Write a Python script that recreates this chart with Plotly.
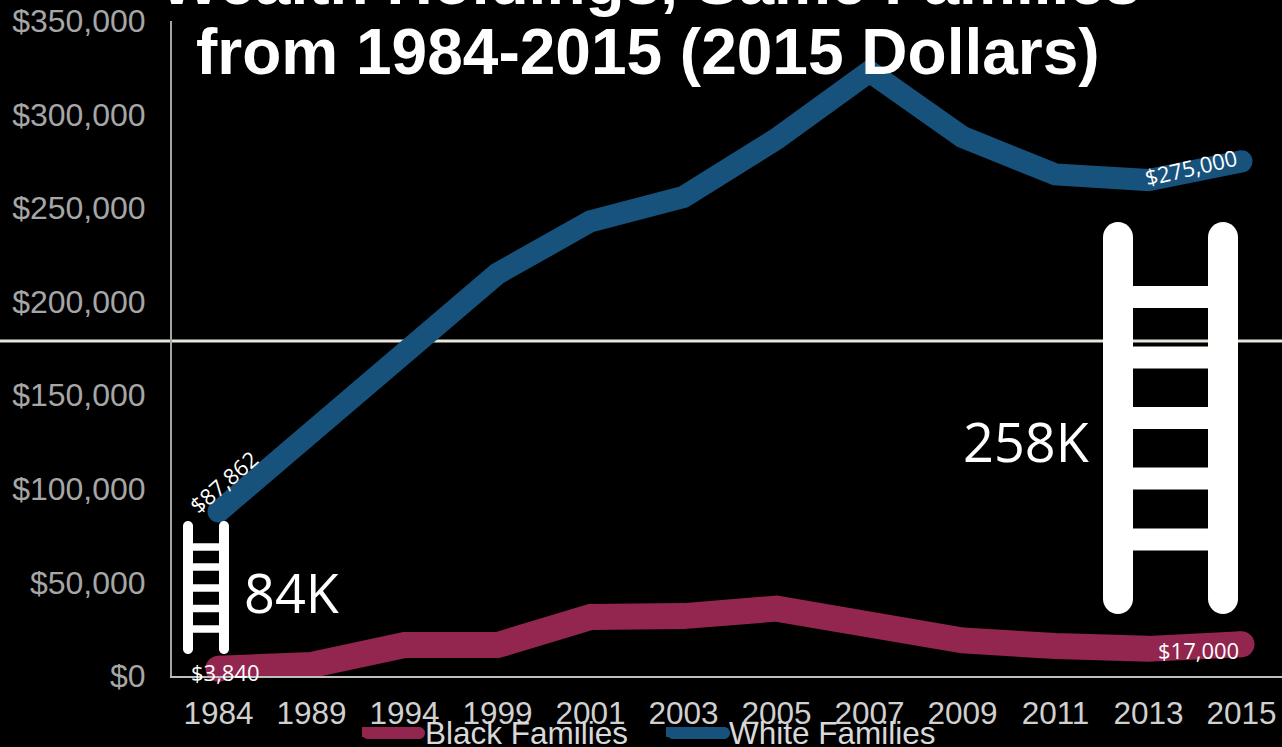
import plotly.graph_objects as go

years = ["1984","1989","1994","1999","2001","2003","2005","2007","2009","2011","2013","2015"]
white_families = [87862,131000,174000,215000,243000,256000,287000,323000,288000,268000,265000,275000]
black_families = [3840,5900,16500,16500,31500,32000,36000,29000,19000,16000,14500,17000]
y_ticks = [0,50000,100000,150000,200000,250000,300000,350000]
y_labels = ["$0","$50,000","$100,000","$150,000","$200,000","$250,000","$300,000","$350,000"]

W, H = 1282, 777   # page runs past the 747px window so the legend can sit on its lower edge
L, R, T, B = 172, 1282, 21, 676
BLUE = "#17527c"
RED = "#92264f"
GREY = "#a6a6a6"
LIGHT = "#d0d0d0"

def px(x): return (x - L) / (R - L)
def py(y): return (B - y) / (B - T)

def rrect(x0, y0, x1, y1, r):
    k = r * 0.45
    pts = [("M", [(x0+r, y0)]), ("L", [(x1-r, y0)]),
           ("C", [(x1-k, y0), (x1, y0+k), (x1, y0+r)]), ("L", [(x1, y1-r)]),
           ("C", [(x1, y1-k), (x1-k, y1), (x1-r, y1)]), ("L", [(x0+r, y1)]),
           ("C", [(x0+k, y1), (x0, y1-k), (x0, y1-r)]), ("L", [(x0, y0+r)]),
           ("C", [(x0, y0+k), (x0+k, y0), (x0+r, y0)])]
    s = " ".join(c + " " + " ".join(f"{px(a):.5f},{py(b):.5f}" for a, b in p) for c, p in pts)
    return s + " Z"

def ladder(rails, top, bottom, rail_w, rungs, rung_h):
    out = []
    for c in rails:
        out.append(rrect(c-rail_w/2, top, c+rail_w/2, bottom, rail_w/2))
    for r in rungs:
        out.append(rrect(rails[0], r-rung_h/2, rails[1], r+rung_h/2, 0.01))
    return out

paths = ladder((1118,1223), 222, 614, 30, [297,357.5,418,478.5,539.5], 22) + \
        ladder((188,224), 521, 654, 10, [547,567,588,608.5,629], 7.5)

shapes = [dict(type="line", xref="paper", yref="paper", x0=px(0), x1=px(1282), y0=py(341), y1=py(341),
               line=dict(color="#e9e5da", width=3), layer="below")]
for p in paths:
    shapes.append(dict(type="path", xref="paper", yref="paper", path=p, fillcolor="white",
                       line=dict(width=0), layer="above"))
for (x0, x1, c) in [(362, 425, RED), (667, 730, BLUE)]:
    shapes.append(dict(type="path", xref="paper", yref="paper", path=rrect(x0, 727, x1, 739, 6),
                       fillcolor=c, line=dict(width=0), layer="above"))

fig = go.Figure()
def sizes(w): return [w] + [0]*(len(years)-2) + [w]
fig.add_trace(go.Scatter(x=years, y=black_families, name="Black Families", mode="lines+markers",
    line=dict(color=RED, width=26), marker=dict(color=RED, opacity=1, size=sizes(26), line=dict(width=0)), cliponaxis=False))
fig.add_trace(go.Scatter(x=years, y=white_families, name="White Families", mode="lines+markers",
    line=dict(color=BLUE, width=22), marker=dict(color=BLUE, opacity=1, size=sizes(22), line=dict(width=0)), cliponaxis=False))

def note(text, x, y, size, font="Open Sans", angle=0, bold=False):
    return dict(text=f"<b>{text}</b>" if bold else text, xref="paper", yref="paper", x=px(x), y=py(y),
                showarrow=False, xanchor="center", yanchor="middle", textangle=angle,
                font=dict(family=font, size=size, color="white"))

annotations = [
    note("Wealth Holdings, Same Families", 650, -18, 64, "Liberation Sans", bold=True),
    note("from 1984-2015 (2015 Dollars)", 648, 52, 64, "Liberation Sans", bold=True),
    note("84K", 292, 592, 54),
    note("258K", 1026, 441, 54),
    note("$87,862", 223, 482, 22, angle=-41),
    note("$275,000", 1191, 167, 22, angle=-13),
    note("$3,840", 225, 672, 22),
    note("$17,000", 1198, 650, 22),
]

fig.update_layout(
    width=W, height=H, autosize=False,
    margin=dict(l=L, r=W-R, t=T, b=H-B, pad=0),
    paper_bgcolor="black", plot_bgcolor="black",
    font=dict(family="Liberation Sans", color=GREY),
    xaxis=dict(type="category", range=[-0.5, (R-L)/93-0.5], showgrid=False, zeroline=False,
               showline=True, linecolor="#bfbfbf", linewidth=2, ticks="", ticklabelstandoff=8,
               tickfont=dict(size=31.5, color=LIGHT), tickangle=0),
    yaxis=dict(range=[0,350000], tickvals=y_ticks, ticktext=y_labels, showgrid=False, zeroline=False,
               showline=True, linecolor=GREY, linewidth=2, ticks="", ticklabelstandoff=18,
               tickfont=dict(size=32, color=GREY)),
    legend=dict(orientation="h", x=px(357), xanchor="left", y=py(732), yanchor="middle",
                font=dict(size=31.5, color="#d9d9d9"), itemwidth=58, entrywidth=231,
                entrywidthmode="pixels", bgcolor="rgba(0,0,0,0)"),
    shapes=shapes, annotations=annotations,
)
fig.write_html("out.html", config=dict(displayModeBar=False),
               post_script="document.body.style.margin='0';document.body.style.background='black';document.body.style.overflow='hidden';")
